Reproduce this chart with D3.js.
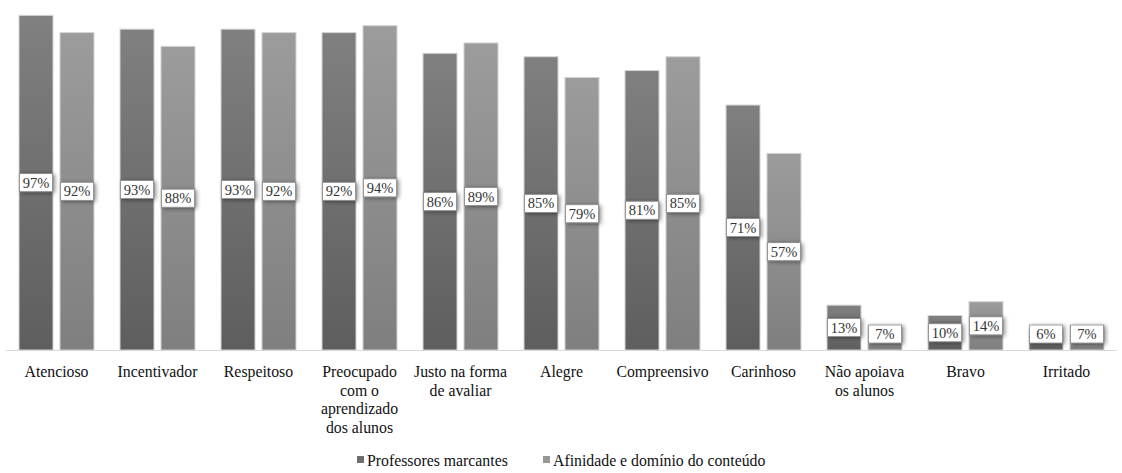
<!DOCTYPE html>
<html>
<head>
<meta charset="utf-8">
<script src="https://cdn.jsdelivr.net/npm/d3@7"></script>
<style>
  html, body { margin: 0; padding: 0; background: #fff; }
  svg { display: block; }
</style>
</head>
<body>
<svg id="chart" width="1122" height="473" font-family="'Liberation Serif', 'Times New Roman', Times, 'DejaVu Serif', serif"></svg>
<script>
// Traits attributed to teachers (percent of respondents)
const categories = [
  ["Atencioso"],
  ["Incentivador"],
  ["Respeitoso"],
  ["Preocupado", "com o", "aprendizado", "dos alunos"],
  ["Justo na forma", "de avaliar"],
  ["Alegre"],
  ["Compreensivo"],
  ["Carinhoso"],
  ["Não apoiava", "os alunos"],
  ["Bravo"],
  ["Irritado"]
];
const seriesNames = ["Professores marcantes", "Afinidade e domínio do conteúdo"];
const professoresMarcantes = [97, 93, 93, 92, 86, 85, 81, 71, 13, 10, 6];
const afinidadeDominio     = [92, 88, 92, 94, 89, 79, 85, 57, 7, 14, 7];

const seriesValues = [professoresMarcantes, afinidadeDominio];
const keys = categories.map(c => c.join(" "));
const serifFont = "'Liberation Serif', 'Times New Roman', Times, 'DejaVu Serif', serif";

const svg = d3.select("#chart");
const baseY = 350;

const x0 = d3.scaleBand().domain(keys).range([6, 1117]).paddingInner(0).paddingOuter(0);
const groupWidth = 75;
const x1 = d3.scaleBand().domain(seriesNames)
  .range([(x0.bandwidth() - groupWidth) / 2, (x0.bandwidth() + groupWidth) / 2])
  .paddingInner(0.17);
const y = d3.scaleLinear().domain([0, 100]).range([baseY, 5]);

const defs = svg.append("defs");
const gradStops = [
  { id: "g0", top: "#808080", bottom: "#5e5e5e" },
  { id: "g1", top: "#9c9c9c", bottom: "#7f7f7f" }
];
gradStops.forEach(g => {
  const lg = defs.append("linearGradient").attr("id", g.id)
    .attr("x1", 0).attr("y1", 0).attr("x2", 0).attr("y2", 1);
  lg.append("stop").attr("offset", "0%").attr("stop-color", g.top);
  lg.append("stop").attr("offset", "100%").attr("stop-color", g.bottom);
});
const sh = defs.append("filter").attr("id", "boxShadow")
  .attr("x", "-30%").attr("y", "-40%").attr("width", "170%").attr("height", "190%");
sh.append("feDropShadow").attr("dx", 2).attr("dy", 1).attr("stdDeviation", 2)
  .attr("flood-color", "#000").attr("flood-opacity", 0.45);

// Baseline
svg.append("line")
  .attr("x1", x0.range()[0]).attr("x2", x0.range()[1])
  .attr("y1", baseY + 0.5).attr("y2", baseY + 0.5)
  .attr("stroke", "#d9d9d9").attr("stroke-width", 1);

const rows = keys.map((k, i) => ({ key: k, values: seriesValues.map((s, j) => ({ series: seriesNames[j], idx: j, value: s[i] })) }));

const groups = svg.append("g").selectAll("g.grp").data(rows).join("g")
  .attr("class", "grp")
  .attr("transform", d => `translate(${x0(d.key)},0)`);

// Bars
groups.selectAll("rect.bar").data(d => d.values).join("rect")
  .attr("class", "bar")
  .attr("x", d => x1(d.series))
  .attr("y", d => y(d.value))
  .attr("width", x1.bandwidth())
  .attr("height", d => baseY - y(d.value))
  .attr("fill", d => `url(#g${d.idx})`)
  .attr("stroke", "#d4d4d4")
  .attr("stroke-width", 1);

// Value labels
const boxH = 18;
const labels = groups.selectAll("g.lbl").data(d => d.values).join("g")
  .attr("class", "lbl")
  .attr("transform", d => {
    const mid = (y(d.value) + baseY) / 2;
    const cy = Math.min(mid, baseY - 16);
    return `translate(${x1(d.series) + x1.bandwidth() / 2},${cy})`;
  });
labels.append("rect")
  .attr("x", -x1.bandwidth() / 2 + 0.5)
  .attr("y", -boxH / 2)
  .attr("width", x1.bandwidth() - 1)
  .attr("height", boxH)
  .attr("fill", "#fff")
  .attr("stroke", "#8a8a8a")
  .attr("stroke-width", 0.8)
  .attr("filter", "url(#boxShadow)");
labels.append("text")
  .attr("text-anchor", "middle")
  .attr("dy", "0.35em")
  .attr("font-family", serifFont)
  .attr("font-size", 14.5)
  .attr("fill", "#333")
  .text(d => d.value + "%");

// Category axis labels
const axisLabels = svg.append("g").selectAll("text.cat").data(categories).join("text")
  .attr("class", "cat")
  .attr("x", (d, i) => x0(keys[i]) + x0.bandwidth() / 2)
  .attr("y", 377)
  .attr("text-anchor", "middle")
  .attr("font-family", serifFont)
  .attr("font-size", 15.8)
  .attr("fill", "#111");
axisLabels.selectAll("tspan").data(d => d).join("tspan")
  .attr("x", function () { return d3.select(this.parentNode).attr("x"); })
  .attr("dy", (d, i) => i === 0 ? 0 : 18.7)
  .text(d => d);

// Legend
const legendX = [357, 543];
const legendColors = ["#6e6e6e", "#979797"];
const legend = svg.append("g").selectAll("g.leg").data(seriesNames).join("g")
  .attr("class", "leg")
  .attr("transform", (d, i) => `translate(${legendX[i]},460)`);
legend.append("rect")
  .attr("x", 0).attr("y", -4).attr("width", 7).attr("height", 7)
  .attr("fill", (d, i) => legendColors[i]);
legend.append("text")
  .attr("x", 10).attr("y", 0).attr("dy", "0.35em")
  .attr("font-family", serifFont)
  .attr("font-size", 15.8).attr("fill", "#111")
  .text(d => d);
</script>
</body>
</html>
